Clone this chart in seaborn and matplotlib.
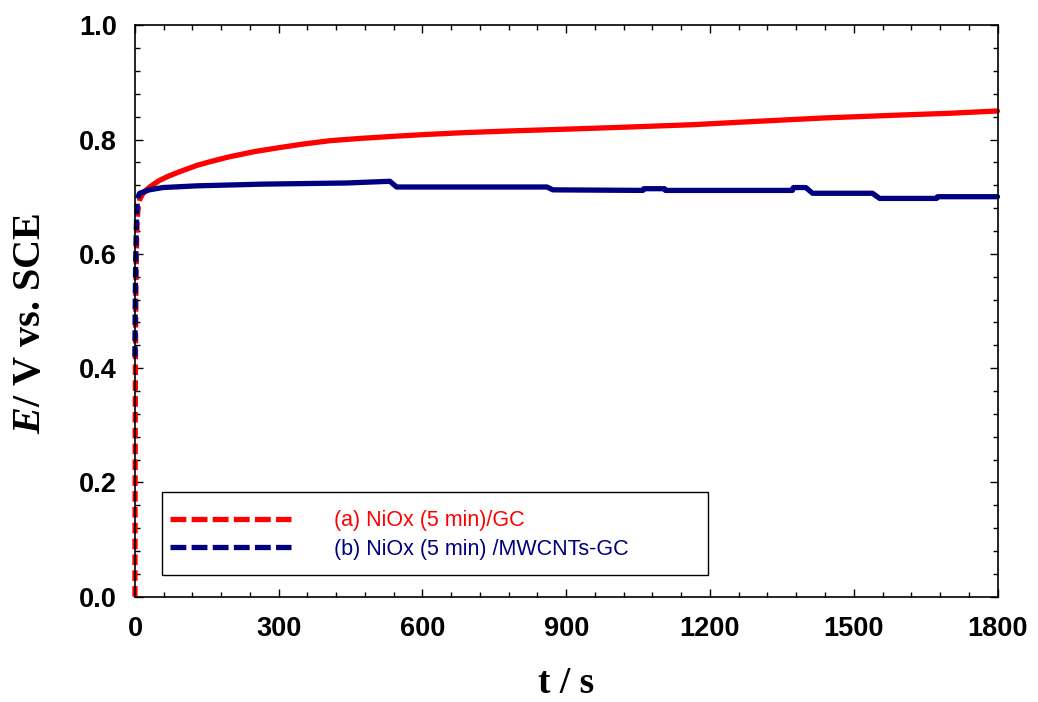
import numpy as np
import pandas as pd
import matplotlib
matplotlib.use("Agg")
import matplotlib.pyplot as plt
import seaborn as sns
from matplotlib.lines import Line2D
from matplotlib.patches import Rectangle
from matplotlib.ticker import MultipleLocator

# ---- data ----
# (a) NiOx (5 min)/GC
t_a_rise = [0, 0.5, 1, 2, 3, 4, 5, 6, 8, 10, 14]
E_a_rise = [0.0, 0.25, 0.42, 0.53, 0.60, 0.64, 0.66, 0.675, 0.688, 0.695, 0.702]
t_a = [14, 20, 31, 50, 70, 94, 130, 160, 198, 250, 302, 350, 407, 470, 546, 610, 684, 780,
       893, 1000, 1164, 1300, 1443, 1600, 1700, 1800]
E_a = [0.702, 0.709, 0.717, 0.728, 0.736, 0.744, 0.755, 0.762, 0.770, 0.779, 0.786, 0.792,
       0.798, 0.802, 0.806, 0.809, 0.812, 0.815, 0.818, 0.821, 0.826, 0.832, 0.838, 0.843,
       0.846, 0.850]

# (b) NiOx (5 min) /MWCNTs-GC
t_b_rise = [0, 0.5, 1, 2, 3, 4, 5, 6, 8, 10]
E_b_rise = [0.42, 0.50, 0.55, 0.61, 0.65, 0.675, 0.69, 0.697, 0.703, 0.706]
t_b = [10, 30, 58, 129, 267, 442, 532, 546, 700, 860, 872, 1060, 1062, 1105, 1107, 1372,
       1374, 1400, 1414, 1539, 1554, 1673, 1675, 1800]
E_b = [0.706, 0.712, 0.716, 0.719, 0.722, 0.724, 0.727, 0.717, 0.717, 0.717, 0.712, 0.711,
       0.714, 0.714, 0.711, 0.711, 0.716, 0.716, 0.706, 0.706, 0.697, 0.697, 0.700, 0.700]

labels = ["(a) NiOx (5 min)/GC", "(b) NiOx (5 min) /MWCNTs-GC"]
colors = ["#FF0000", "#000080"]

x_ticks = [0, 300, 600, 900, 1200, 1500, 1800]
y_ticks = [0.0, 0.2, 0.4, 0.6, 0.8, 1.0]

# ---- style ----
sns.set_theme(style="white")
plt.rcParams["font.family"] = ["Liberation Sans", "DejaVu Sans"]
plt.rcParams["mathtext.fontset"] = "custom"
plt.rcParams["mathtext.it"] = "Liberation Serif:italic:bold"
plt.rcParams["mathtext.rm"] = "Liberation Serif:bold"

fig = plt.figure(figsize=(10.38, 7.02), dpi=100)
ax = fig.add_axes([0.130, 0.150, 0.831, 0.814])

lw = 3.8
rise_sets = [(t_a_rise, E_a_rise), (t_b_rise, E_b_rise)]
main_sets = [(t_a, E_a), (t_b, E_b)]
for (tr, er), (tm, em), c in zip(rise_sets, main_sets, colors):
    dr = pd.DataFrame({"t": tr, "E": er})
    dm = pd.DataFrame({"t": tm, "E": em})
    sns.lineplot(data=dm, x="t", y="E", ax=ax, color=c, lw=lw, sort=False,
                 estimator=None, clip_on=False)
    sns.lineplot(data=dr, x="t", y="E", ax=ax, color=c, lw=lw, sort=False,
                 estimator=None, clip_on=False, dashes=False)
    ax.lines[-1].set_dashes([2.0, 1.0])

ax.set_xlim(0, 1800)
ax.set_ylim(0, 1.0)
ax.set_xticks(x_ticks)
ax.set_yticks(y_ticks)
ax.set_xticklabels([str(v) for v in x_ticks])
ax.set_yticklabels([f"{v:.1f}" for v in y_ticks])
ax.xaxis.set_minor_locator(MultipleLocator(60))
ax.yaxis.set_minor_locator(MultipleLocator(0.04))
ax.tick_params(which="both", direction="in", top=True, right=True,
               bottom=True, left=True, color="black", width=1.0)
ax.tick_params(which="major", length=6)
ax.tick_params(which="minor", length=3.5)
ax.tick_params(axis="x", which="major", pad=14)
ax.tick_params(axis="y", which="major", pad=13)
for lab in ax.get_xticklabels() + ax.get_yticklabels():
    lab.set_fontweight("bold")
    lab.set_fontsize(19.5)
    lab.set_color("black")
for sp in ax.spines.values():
    sp.set_visible(True)
    sp.set_color("black")
    sp.set_linewidth(1.2)

ax.set_xlabel("t / s", fontfamily="Liberation Serif", fontweight="bold", fontsize=27,
              color="black")
ax.set_ylabel(r"$\mathit{E}$/ V vs. SCE", fontfamily="Liberation Serif", fontweight="bold",
              fontsize=29, color="black")
ax.xaxis.set_label_coords(0.5, -0.122)
ax.yaxis.set_label_coords(-0.100, 0.479)

# legend frame drawn as a patch, legend content without frame
ax.add_patch(Rectangle((0.031, 0.038), 0.633, 0.145, transform=ax.transAxes,
                       fill=True, facecolor="white", edgecolor="black", lw=1.0, zorder=4))
handles = [Line2D([], [], color=c, lw=lw, dashes=(3, 1)) for c in colors]
leg = ax.legend(handles, labels, loc="upper left", bbox_to_anchor=(0.0406, 0.151),
                fontsize=15.5, handlelength=5.6, handletextpad=2.0, labelspacing=0.34,
                borderpad=0, frameon=False, borderaxespad=0)
leg.set_zorder(5)
for txt, c in zip(leg.get_texts(), colors):
    txt.set_color(c)

fig.savefig("out.png", dpi=100)
